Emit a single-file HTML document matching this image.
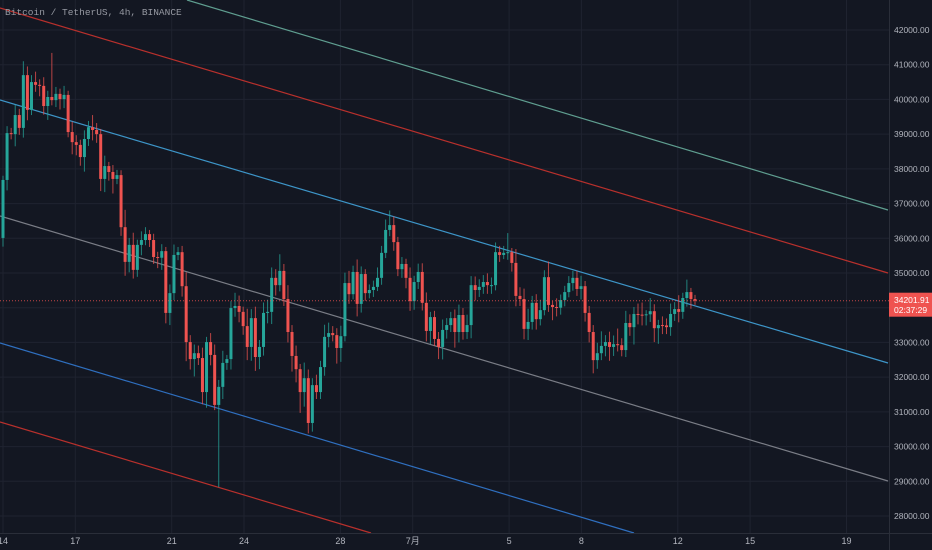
<!DOCTYPE html>
<html><head><meta charset="utf-8"><style>
html,body{margin:0;padding:0;background:#131722;width:932px;height:550px;overflow:hidden;}
#c{position:absolute;left:0;top:0;width:932px;height:550px;overflow:hidden;background:#131722;font-family:"Liberation Sans","Noto Sans CJK SC",sans-serif;}
svg{display:block;}
</style></head><body>
<div id="c">
<svg id="svg" width="932" height="550"></svg>
</div>
<script>
const priceTicks=[42000,41000,40000,39000,38000,37000,36000,35000,33000,32000,31000,30000,29000,28000];
const gridPrices=[42000,41000,40000,39000,38000,37000,36000,35000,34000,33000,32000,31000,30000,29000,28000];
const dateLabels=["14","17","21","24","28","7月","5","8","12","15","19"];
const dateDays=[0,3,7,10,14,17,21,24,28,31,35];
const firstOpen=36010;
const closes=[37680,39030,39000,39550,39180,40700,39700,40500,40420,40390,39810,40070,39980,40160,40010,40130,39060,38770,38690,38340,
38860,39200,39120,39000,37710,38080,37910,37710,37820,36320,35320,35810,35090,35810,35950,36120,35950,35460,35440,35630,
33850,34420,35520,35600,34620,33010,32520,32690,32550,31570,33010,32640,31200,31720,32410,32520,33990,34050,33880,33470,
32870,33700,32580,32870,33850,33880,34860,34650,35060,34250,33300,32610,32230,31570,31970,30680,31770,31570,32290,33160,
33270,33210,32840,33180,34710,34390,35030,34110,34970,34420,34510,34600,34860,35580,36240,36380,35890,35110,35260,34860,
34190,34740,35030,34140,33330,33730,33100,32870,33360,33500,33700,33300,33790,33300,33500,34650,34510,34600,34740,34650,
34650,35600,35520,35580,35600,35290,34340,34250,33390,33590,34140,33670,33930,34880,34080,34020,34000,34220,34450,34710,
34860,34540,34620,33850,33300,32490,32690,32900,33010,32870,32950,32920,32780,33560,33440,33820,33800,33790,33810,33900,
33410,33500,33490,33440,33820,33960,33880,34280,34450,34250,34202];
const hiExt=[120,200,150,300,180,400,250,200,300,160,250,180,1270,200,150,260,120,300,200,150,
250,180,350,200,150,300,120,200,150,140,500,200,350,150,250,200,120,180,150,200,
120,250,300,150,180,400,200,250,220,300,150,260,300,200,350,120,200,380,300,150,
500,260,330,200,300,350,300,250,480,200,400,200,300,150,450,250,200,300,180,350,
300,200,200,300,300,350,180,360,220,140,160,180,300,200,300,420,250,150,200,150,
300,180,240,250,300,150,180,200,300,200,180,250,300,200,300,260,250,220,200,250,
220,280,180,200,550,120,400,250,300,380,200,250,300,200,450,120,250,160,180,200,
200,200,300,150,200,200,300,420,200,300,250,450,200,350,250,200,300,350,120,380,
200,150,250,200,300,200,400,150,360,120,120];
const loExt=[250,300,150,350,200,280,300,150,200,300,250,400,150,200,300,260,150,350,300,250,
420,200,300,250,350,380,250,420,150,250,400,300,250,200,300,150,200,200,300,350,
300,350,200,150,300,550,300,500,200,350,450,300,150,2370,350,200,300,250,300,250,
380,400,400,350,250,300,350,300,180,200,300,450,380,600,420,300,250,200,200,250,
300,180,450,400,150,280,150,360,250,220,150,200,120,200,150,180,250,200,250,300,
280,250,200,220,300,380,200,350,360,250,200,450,300,220,200,380,300,200,200,250,
250,150,200,120,200,250,300,200,300,320,220,300,180,150,200,380,250,200,180,150,
220,200,300,250,300,380,250,200,300,400,260,180,180,200,250,500,280,300,300,220,
400,450,250,200,250,200,300,200,250,280,120];

const NS="http://www.w3.org/2000/svg";
const svg=document.getElementById('svg');
const PR=889,PB=533;
function yOf(p){return 30+(42000-p)*0.034714;}
function xOfDay(d){return 3+d*24.1;}
const n=closes.length;
const step=(695-3)/(n-1);
function xOfIdx(i){return 3+i*step;}
function mk(tag,attrs,parent){const e=document.createElementNS(NS,tag);for(const k in attrs)e.setAttribute(k,attrs[k]);(parent||svg).appendChild(e);return e;}

const grid=mk('g',{});


gridPrices.forEach(p=>{const l=mk('line',{x1:0,x2:PR,y1:yOf(p),y2:yOf(p),stroke:'#1f2330','stroke-width':1},grid);

});
dateDays.forEach(d=>{const l=mk('line',{x1:xOfDay(d),x2:xOfDay(d),y1:0,y2:PB,stroke:'#1f2330','stroke-width':1},grid);

});

const chan=[['#5f9e90',187,0,888,210,'channel-top-teal'],['#b8302c',0,8,888,273,'channel-upper-red'],['#3d95c8',0,100,888,363,'channel-upper-blue'],['#7a7d86',0,216,888,481,'channel-middle-gray'],['#2f6fbf',0,343,634,533,'channel-lower-blue'],['#b8302c',0,422,371,533,'channel-lower-red']];
chan.forEach(c=>{const l=mk('line',{x1:c[1],y1:c[2],x2:c[3],y2:c[4],stroke:c[0],'stroke-width':1.2});

});

const cg=mk('g',{});


for(let i=0;i<n;i++){
  const o=i===0?firstOpen:closes[i-1];const c=closes[i];
  const hi=Math.max(o,c)+hiExt[i], lo=Math.min(o,c)-loExt[i];
  const col=c>=o?'#26a69a':'#ef5350';
  const x=xOfIdx(i);
  const g=mk('g',{},cg);
  
  
  mk('line',{x1:x,x2:x,y1:yOf(hi),y2:yOf(lo),stroke:col,'stroke-width':1,opacity:0.75},g);
  const yt=yOf(Math.max(o,c)),yb=yOf(Math.min(o,c));
  mk('rect',{x:x-1.5,y:yt,width:3,height:Math.max(1,yb-yt),fill:col},g);
}

const last=closes[n-1];
const pl=mk('line',{x1:0,x2:PR,y1:yOf(last),y2:yOf(last),stroke:'#ef5350','stroke-width':1,'stroke-dasharray':'1,2',opacity:0.8});



const ra=mk('rect',{x:PR,y:0,width:932-PR,height:550,fill:'#131722'});


const ba=mk('rect',{x:0,y:PB,width:932,height:550-PB,fill:'#131722'});


mk('line',{x1:PR+0.5,x2:PR+0.5,y1:0,y2:550,stroke:'#2a2e39','stroke-width':1});
mk('line',{x1:0,x2:932,y1:PB+0.5,y2:PB+0.5,stroke:'#2a2e39','stroke-width':1});

priceTicks.forEach(p=>{const t=mk('text',{x:894,y:yOf(p)+3,fill:'#b2b5be','font-size':8.5,'font-family':'Liberation Sans, sans-serif'});
t.textContent=p.toFixed(2);

});

dateLabels.forEach((s,k)=>{const t=mk('text',{x:xOfDay(dateDays[k]),y:544,fill:'#b2b5be','font-size':9,'text-anchor':'middle','font-family':'Liberation Sans, Noto Sans CJK SC, sans-serif'});
t.textContent=s;

});

const yl=yOf(last);
const lb=mk('rect',{x:PR,y:yl-8,width:932-PR,height:24,fill:'#ef5350'});


const t1=mk('text',{x:894,y:yl+2.5,fill:'#fff','font-size':8.5,'font-family':'Liberation Sans, sans-serif'});t1.textContent='34201.91';


const t2=mk('text',{x:894,y:yl+12.5,fill:'#fff','font-size':8.5,'font-family':'Liberation Sans, sans-serif'});t2.textContent='02:37:29';



const tt=mk('text',{x:5,y:15,fill:'#9598a1','font-size':9.5,'font-family':'Liberation Mono, monospace'});
tt.textContent='Bitcoin / TetherUS, 4h, BINANCE';


</script>
</body></html>
